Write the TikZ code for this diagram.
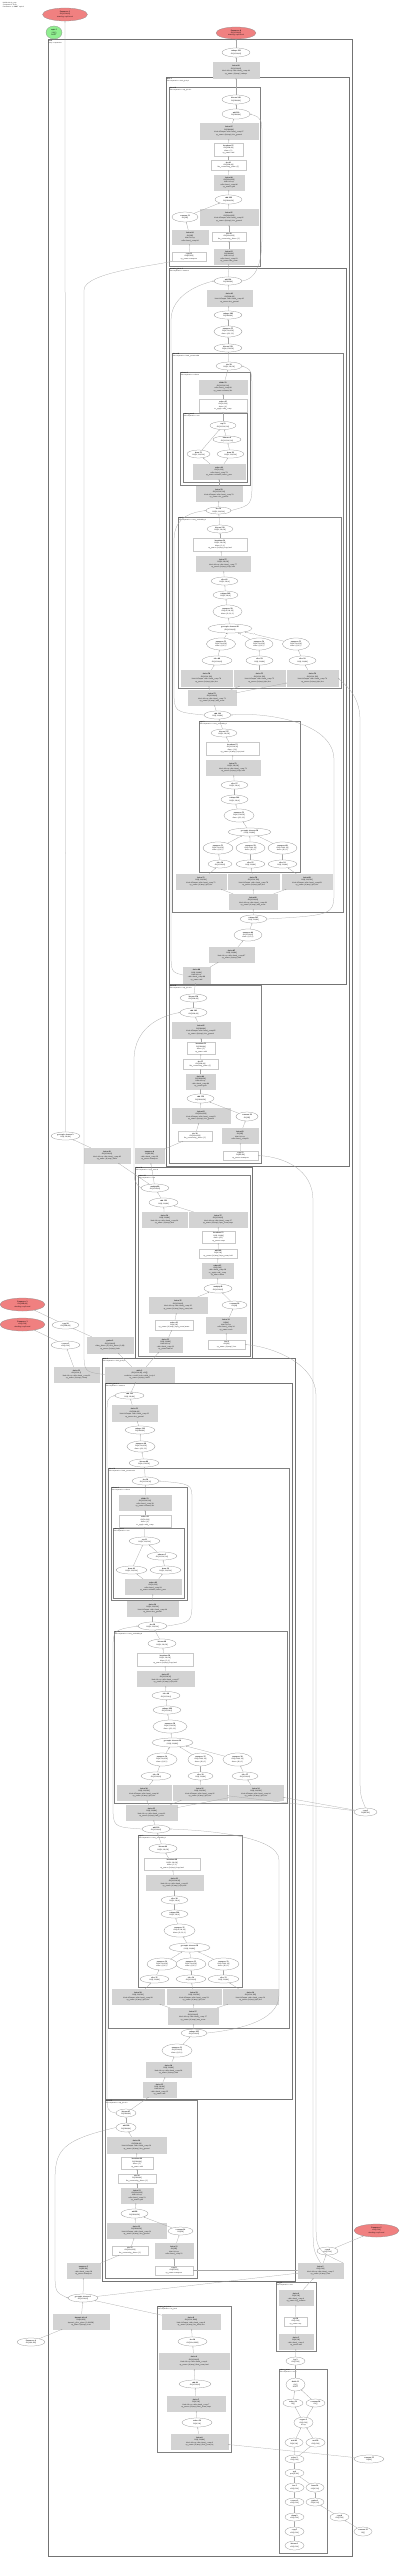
\documentclass[tikz,border=0pt]{standalone}
\usepackage{tikz}
\usetikzlibrary{arrows.meta,shapes.geometric}

\definecolor{parred}{RGB}{240,128,128}
\definecolor{rootgreen}{RGB}{144,238,144}
\definecolor{fusgray}{RGB}{211,211,211}
\definecolor{boxline}{RGB}{200,200,200}

\begin{document}
\begin{tikzpicture}[x=1pt,y=-1pt,
	every node/.style={font=\fontsize{1.8}{2.4}\selectfont\sffamily, align=center, inner sep=0.4pt},
	sz/.style 2 args={minimum width=#1, minimum height=#2},
	opnode/.style={ellipse, draw=black!45, fill=white, line width=0.25pt},
	boxnode/.style={rectangle, draw=boxline, fill=white, line width=0.15pt},
	fusnode/.style={rectangle, draw=fusgray, fill=fusgray, line width=0.25pt},
	parnode/.style={ellipse, draw=black!45, fill=parred, line width=0.25pt},
	rootnode/.style={ellipse, draw=black!45, fill=rootgreen, line width=0.25pt},
	grp/.style={draw=black!50, line width=0.6pt},
	grpthick/.style={draw=black!55, line width=1pt},
	grplabel/.style={anchor=north west, align=left, inner sep=0.6pt, font=\fontsize{1.6}{2}\selectfont\sffamily},
	link/.style={draw=black!35, line width=0.25pt, -{Stealth[length=1.3pt,width=1.1pt]}},
	edgelab/.style={font=\fontsize{1.4}{1.6}\selectfont\sffamily, inner sep=0.2pt, fill=white}]

	\useasboundingbox (0,0) rectangle (400,2558);

	% clusters
	\draw[grpthick] (48,40) rectangle (352,2556);
	\node[grplabel] at (48,40) {\textbf{main}\\entry computation};
	\draw[grpthick] (166,78) rectangle (349,1166);
	\node[grplabel] at (166,78) {\textbf{while.3}\\Subcomputation: while\_body.3};
	\draw[grp] (169,87) rectangle (260,266);
	\node[grplabel] at (169,87) {\textbf{fusion.82}\\Subcomputation: mlp\_block.1};
	\draw[grpthick] (169,268) rectangle (346,984);
	\node[grplabel] at (169,268) {\textbf{attention\_block.2}\\Subcomputation: attention};
	\draw[grp] (172,353) rectangle (343,912);
	\node[grplabel] at (172,353) {\textbf{fusion.60}\\Subcomputation: fused\_attention.60};
	\draw[grp] (180,372) rectangle (250,485);
	\node[grplabel] at (180,372) {\textbf{softmax.2}\\Subcomputation: softmax};
	\draw[grp] (183,413) rectangle (247,482);
	\node[grplabel] at (183,413) {\textbf{reduce\_max.2}\\Subcomputation: max};
	\draw[grp] (178,517) rectangle (341,688);
	\node[grplabel] at (178,517) {\textbf{rope.2}\\Subcomputation: rotary\_embedding.2};
	\draw[grp] (199,721) rectangle (300,872);
	\node[grplabel] at (199,721) {\textbf{rope.3}\\Subcomputation: rotary\_embedding.3};
	\draw[grp] (169,985) rectangle (261,1163);
	\node[grplabel] at (169,985) {\textbf{fusion.41}\\Subcomputation: mlp\_block.0};
	\draw[grpthick] (135,1167) rectangle (252,1358);
	\node[grplabel] at (135,1167) {\textbf{fusion.30}\\Subcomputation: layer\_norm.0};
	\draw[grp] (138,1175) rectangle (250,1356);
	\node[grplabel] at (138,1175) {\textbf{reduce.12}\\Subcomputation: norm};
	\draw[grpthick] (102,1358) rectangle (295,2281);
	\node[grplabel] at (102,1358) {\textbf{while.2}\\Subcomputation: while\_body.2};
	\draw[grpthick] (105,1383) rectangle (292,2099);
	\node[grplabel] at (105,1383) {\textbf{attention\_block.1}\\Subcomputation: attention};
	\draw[grp] (108,1468) rectangle (289,2028);
	\node[grplabel] at (108,1468) {\textbf{fusion.22}\\Subcomputation: fused\_attention.22};
	\draw[grp] (111,1487) rectangle (187,1600);
	\node[grplabel] at (111,1487) {\textbf{softmax.1}\\Subcomputation: softmax};
	\draw[grp] (113,1528) rectangle (184,1598);
	\node[grplabel] at (113,1528) {\textbf{reduce\_max.1}\\Subcomputation: max};
	\draw[grp] (114,1631) rectangle (287,1803);
	\node[grplabel] at (114,1631) {\textbf{rope.0}\\Subcomputation: rotary\_embedding.0};
	\draw[grp] (138,1835) rectangle (242,1987);
	\node[grplabel] at (138,1835) {\textbf{rope.1}\\Subcomputation: rotary\_embedding.1};
	\draw[grp] (105,2100) rectangle (197,2278);
	\node[grplabel] at (105,2100) {\textbf{fusion.12}\\Subcomputation: mlp\_block.2};
	\draw[grp] (157,2306) rectangle (231,2452);
	\node[grplabel] at (157,2306) {\textbf{output\_projection}\\Subcomputation: lm\_head};
	\draw[grp] (276,2282) rectangle (316,2351);
	\node[grplabel] at (276,2282) {\textbf{loss\_fn}\\Subcomputation: xent};
	\draw[grp] (279,2369) rectangle (327,2553);
	\node[grplabel] at (279,2369) {\textbf{reduce\_mean}\\Subcomputation: mean};

	% header and entry nodes
	\node[grplabel] (hdr) at (2,1.5) {HloModule jit\_step\\Computation: main\\Parameters: 4, ROOT tuple.5};
	\node[parnode, sz={45}{13}] (par0) at (65,14.5) {\textbf{Parameter 1}\\f32[8,128,64]\\sharding=replicated};
	\node[rootnode, sz={16}{13}] (root) at (54,32.5) {\textbf{tuple.5}\\(f32[])\\ROOT};
	\node[parnode, sz={40}{12}] (par1) at (236,33) {\textbf{Parameter 0}\\f32[8,128,64]\\sharding=replicated};
	\node[opnode, sz={28}{9}] (a1) at (236,52.5) {\textbf{reshape.301}\\f32[8,128,64]};
	\node[fusnode, sz={46}{16}] (a2) at (236,70) {\textbf{fusion.88}\\f32[8,128,64]\\kind=kLoop calls=fused\_comp.88\\op\_name=jit(step)/reshape};

	% mlp block 1
	\node[opnode, sz={28}{9}] (b1) at (236,99.5) {\textbf{bitcast.140}\\f32[1024,64]};
	\node[opnode, sz={28}{10}] (b2) at (236,114) {\textbf{add.210}\\f32[1024,64]};
	\node[fusnode, sz={58}{16}] (b3) at (229,131) {\textbf{fusion.87}\\f32[1024,64]\\kind=kOutput calls=fused\_comp.87\\op\_name=jit(step)/dot\_general};
	\node[boxnode, sz={29}{13}] (b4) at (228.5,149.5) {\textbf{broadcast.55}\\f32[1024,64]\\dims=\{1\}\\op\_name=add};
	\node[boxnode, sz={35}{10}] (b5) at (228.5,165) {\textbf{dot.41}\\f32[1024,64]\\lhs\_contracting\_dims=\{1\}};
	\node[fusnode, sz={30}{15}] (b6) at (229,182.5) {\textbf{fusion.86}\\f32[1024,256]\\kind=kLoop\\calls=fused\_comp.86\\op\_name=gelu};
	\node[opnode, sz={27}{9}] (b7) at (228.5,199.5) {\textbf{add.209}\\f32[1024,256]};
	\node[opnode, sz={26}{10}] (b8) at (185,217) {\textbf{constant.31}\\f32[256]};
	\node[fusnode, sz={58}{16}] (b9) at (229,217) {\textbf{fusion.85}\\f32[1024,256]\\kind=kOutput calls=fused\_comp.85\\op\_name=jit(step)/dot\_general};
	\node[fusnode, sz={36}{14}] (b10) at (190,237) {\textbf{fusion.84}\\f32[256]\\kind=kLoop\\calls=fused\_comp.84};
	\node[boxnode, sz={34}{9}] (b11) at (229,236.5) {\textbf{dot.40}\\f32[1024,256]\\lhs\_contracting\_dims=\{1\}};
	\node[fusnode, sz={30}{15}] (b12) at (229,256.5) {\textbf{fusion.83}\\f32[1024,64]\\kind=kLoop\\calls=fused\_comp.83\\op\_name=rms\_norm};
	\node[boxnode, sz={34}{9}] (b13) at (189,256.5) {\textbf{copy.12}\\f32[64,256]\\op\_name=transpose};

	% attention block 2
	\node[opnode, sz={28}{8}] (c1) at (228,281) {\textbf{add.198}\\f32[1024,64]};
	\node[fusnode, sz={45}{16}] (c2) at (229.5,298) {\textbf{fusion.81}\\f32[1024,64]\\kind=kOutput calls=fused\_comp.81\\op\_name=dot\_general};
	\node[opnode, sz={28}{8}] (c3) at (228,315) {\textbf{reshape.290}\\f32[1024,64]};
	\node[opnode, sz={28}{11}] (c4) at (228,331.5) {\textbf{transpose.77}\\f32[8,128,4,16]\\dims=\{0,2,1,3\}};
	\node[opnode, sz={28}{8}] (c5) at (228,348) {\textbf{bitcast.139}\\f32[8,4,128,16]};
	\node[opnode, sz={26}{8}] (d1) at (229,366) {\textbf{dot.39}\\f32[32,128,16]};
	\node[fusnode, sz={48}{14}] (e1) at (223,387) {\textbf{divide.22}\\f32[32,128,128]\\calls=fused\_comp.80\\op\_name=softmax/div};
	\node[boxnode, sz={48}{13}] (e2) at (223,405.5) {\textbf{reduce.45}\\f32[32,128]\\dims=\{2\}\\to\_apply=add\_comp};
	\node[opnode, sz={26}{8}] (f1) at (223,425.5) {\textbf{exp.12}\\f32[32,128,128]};
	\node[opnode, sz={28}{7}] (f2) at (227,439.5) {\textbf{subtract.8}\\f32[32,128,128]};
	\node[opnode, sz={23}{8}] (f3) at (198.5,454) {\textbf{bcast.71}\\f32[32,128,128]};
	\node[opnode, sz={27}{8}] (f4) at (230.5,454) {\textbf{bcast.70}\\f32[32,128,128]};
	\node[fusnode, sz={52}{15}] (f5) at (219,471.5) {\textbf{reduce.44}\\f32[32,128]\\calls=fused\_comp.79\\op\_name=softmax/reduce\_max};
	\node[fusnode, sz={46}{15}] (d2) at (219,493.5) {\textbf{fusion.78}\\f32[32,128,128]\\kind=kOutput calls=fused\_comp.78\\op\_name=dot\_general};
	\node[opnode, sz={25}{7}] (d3) at (218.5,510.5) {\textbf{dot.38}\\f32[32,128,128]};
	\node[opnode, sz={26}{8}] (g1) at (220,529) {\textbf{bitcast.138}\\f32[32,128,16]};
	\node[boxnode, sz={54}{13}] (g2) at (220,544.5) {\textbf{broadcast.54}\\f32[32,128,16]\\dims=\{1,2\}\\op\_name=jit(step)/rope/mul};
	\node[fusnode, sz={54}{15}] (g3) at (223,563.5) {\textbf{fusion.77}\\f32[32,128,16]\\kind=kLoop calls=fused\_comp.77\\op\_name=jit(step)/rope/add};
	\node[opnode, sz={27}{8}] (g4) at (224.5,581) {\textbf{slice.61}\\f32[32,128,8]};
	\node[opnode, sz={25}{8}] (g5) at (225.5,595) {\textbf{reshape.289}\\f32[32,128,8]};
	\node[opnode, sz={29}{13}] (g6) at (227.5,611.5) {\textbf{transpose.76}\\f32[8,4,128,16]\\dims=\{0,1,2,3\}};
	\node[opnode, sz={44}{9}] (g7) at (230,628.5) {\textbf{get-tuple-element.40}\\(f32[8,128,64])};
	\node[opnode, sz={29}{12}] (g8a) at (221,644) {\textbf{transpose.75}\\f32[8,128,4,16]\\dims=\{0,2,1\}};
	\node[opnode, sz={28}{12}] (g8b) at (259,644) {\textbf{transpose.74}\\f32[8,128,4,16]\\dims=\{0,2,1\}};
	\node[opnode, sz={27}{12}] (g8c) at (296,644) {\textbf{transpose.73}\\f32[8,128,4,16]\\dims=\{0,2,1\}};
	\node[opnode, sz={30}{9}] (g9a) at (217,660.5) {\textbf{slice.60}\\f32[8,128,64]};
	\node[opnode, sz={27}{9}] (g9b) at (259.5,660.5) {\textbf{slice.59}\\f32[8,128,64]};
	\node[opnode, sz={27}{9}] (g9c) at (302.5,660.5) {\textbf{slice.58}\\f32[8,128,64]};
	\node[fusnode, sz={51}{16}] (g10a) at (206.5,678) {\textbf{fusion.76}\\f32[8,128,192]\\kind=kOutput calls=fused\_comp.76\\op\_name=jit(step)/qkv/dot};
	\node[fusnode, sz={51}{16}] (g10b) at (259.5,678) {\textbf{fusion.75}\\f32[8,128,192]\\kind=kOutput calls=fused\_comp.75\\op\_name=jit(step)/qkv/dot};
	\node[fusnode, sz={51}{16}] (g10c) at (312.5,678) {\textbf{fusion.74}\\f32[8,128,192]\\kind=kOutput calls=fused\_comp.74\\op\_name=jit(step)/qkv/dot};
	\node[fusnode, sz={48}{15}] (d4) at (212,697.5) {\textbf{fusion.73}\\f32[8,128,64]\\kind=kLoop calls=fused\_comp.73\\op\_name=jit(step)/rms\_norm};
	\node[opnode, sz={27}{8}] (d5) at (217.5,715) {\textbf{add.188}\\f32[8,128,64]};
	\node[opnode, sz={26}{8}] (h1) at (224,733) {\textbf{bitcast.137}\\f32[32,128,16]};
	\node[boxnode, sz={53}{13}] (h2) at (232.5,748.5) {\textbf{broadcast.53}\\f32[32,128,16]\\dims=\{1,2\}\\op\_name=jit(step)/rope/mul};
	\node[fusnode, sz={54}{15}] (h3) at (233,767.5) {\textbf{fusion.72}\\f32[32,128,16]\\kind=kLoop calls=fused\_comp.72\\op\_name=jit(step)/rope/add};
	\node[opnode, sz={27}{8}] (h4) at (234.5,785) {\textbf{slice.57}\\f32[32,128,8]};
	\node[opnode, sz={27}{9}] (h5) at (234.5,799.5) {\textbf{reshape.288}\\f32[32,128,8]};
	\node[opnode, sz={30}{13}] (h6) at (239,815.5) {\textbf{transpose.72}\\f32[8,4,128,16]\\dims=\{0,1,2,3\}};
	\node[opnode, sz={43}{8}] (h7) at (249.5,832) {\textbf{get-tuple-element.39}\\(f32[8,128,64])};
	\node[opnode, sz={30}{12}] (h8a) at (218,848) {\textbf{transpose.71}\\f32[8,128,4,16]\\dims=\{0,2,1\}};
	\node[opnode, sz={29}{12}] (h8b) at (250.5,848) {\textbf{transpose.70}\\f32[8,128,4,16]\\dims=\{0,2,1\}};
	\node[opnode, sz={29}{12}] (h8c) at (282.5,848) {\textbf{transpose.69}\\f32[8,128,4,16]\\dims=\{0,2,1\}};
	\node[opnode, sz={24}{8}] (h9a) at (220,864) {\textbf{slice.56}\\f32[8,128,64]};
	\node[opnode, sz={29}{8}] (h9b) at (250.5,864) {\textbf{slice.55}\\f32[8,128,64]};
	\node[opnode, sz={29}{8}] (h9c) at (282.5,864) {\textbf{slice.54}\\f32[8,128,64]};
	\node[fusnode, sz={50}{15}] (d6a) at (201,881.5) {\textbf{fusion.71}\\f32[8,128,192]\\kind=kOutput calls=fused\_comp.71\\op\_name=jit(step)/qkv/dot};
	\node[fusnode, sz={51}{15}] (d6b) at (253.5,881.5) {\textbf{fusion.70}\\f32[8,128,192]\\kind=kOutput calls=fused\_comp.70\\op\_name=jit(step)/qkv/dot};
	\node[fusnode, sz={50}{15}] (d6c) at (307,881.5) {\textbf{fusion.69}\\f32[8,128,192]\\kind=kOutput calls=fused\_comp.69\\op\_name=jit(step)/qkv/dot};
	\node[fusnode, sz={48}{15}] (d7) at (253,901.5) {\textbf{fusion.68}\\f32[8,128,64]\\kind=kLoop calls=fused\_comp.68\\op\_name=jit(step)/rms\_norm};
	\node[opnode, sz={27}{8}] (c6) at (253.5,919) {\textbf{reshape.287}\\f32[8,128,64]};
	\node[opnode, sz={28}{12}] (c7) at (248,935) {\textbf{transpose.68}\\f32[8,128,64]\\dims=\{0,1,2\}};
	\node[fusnode, sz={45}{15}] (c8) at (231.5,954.5) {\textbf{fusion.67}\\f32[8,128,64]\\kind=kLoop calls=fused\_comp.67\\op\_name=jit(step)/add};
	\node[fusnode, sz={27}{16}] (c9) at (196.5,975) {\textbf{fusion.66}\\f32[8,128,64]\\kind=kLoop\\calls=fused\_comp.66\\op\_name=add};

	% mlp block 0
	\node[opnode, sz={27}{8}] (i1) at (193.5,998) {\textbf{bitcast.136}\\f32[1024,64]};
	\node[opnode, sz={27}{9}] (i2) at (193.5,1012.5) {\textbf{add.180}\\f32[1024,64]};
	\node[fusnode, sz={58}{16}] (i3) at (201,1030) {\textbf{fusion.65}\\f32[1024,64]\\kind=kOutput calls=fused\_comp.65\\op\_name=jit(step)/dot\_general};
	\node[boxnode, sz={28}{12}] (i4) at (201,1048) {\textbf{broadcast.52}\\f32[1024,64]\\dims=\{1\}\\op\_name=add};
	\node[boxnode, sz={35}{10}] (i5) at (200.5,1064) {\textbf{dot.37}\\f32[1024,64]\\lhs\_contracting\_dims=\{1\}};
	\node[fusnode, sz={29}{15}] (i6) at (200.5,1081.5) {\textbf{fusion.64}\\f32[1024,256]\\kind=kLoop\\calls=fused\_comp.64\\op\_name=gelu};
	\node[opnode, sz={27}{9}] (i7) at (200.5,1098.5) {\textbf{add.179}\\f32[1024,256]};
	\node[fusnode, sz={58}{15}] (i8) at (201,1115.5) {\textbf{fusion.63}\\f32[1024,256]\\kind=kOutput calls=fused\_comp.63\\op\_name=jit(step)/dot\_general};
	\node[opnode, sz={22}{9}] (i9) at (247,1116.5) {\textbf{constant.30}\\f32[256]};
	\node[boxnode, sz={34}{10}] (i10) at (195,1136) {\textbf{dot.36}\\f32[1024,256]\\lhs\_contracting\_dims=\{1\}};
	\node[fusnode, sz={36}{15}] (i11) at (240,1135.5) {\textbf{fusion.62}\\f32[256]\\kind=kLoop\\calls=fused\_comp.62};
	\node[boxnode, sz={35}{9}] (i12) at (240.5,1155.5) {\textbf{copy.11}\\f32[64,256]\\op\_name=transpose};

	% left side of first loop
	\node[opnode, sz={29}{8}] (el1136) at (65.5,1136) {\textbf{get-tuple-element.2}\\f32[8,128,64]};
	\node[fusnode, sz={46}{15}] (gl1155) at (107,1155.5) {\textbf{fusion.40}\\f32[8,128,64]\\kind=kLoop calls=fused\_comp.40\\op\_name=jit(step)/while};
	\node[fusnode, sz={29}{15}] (gm1155) at (149.5,1155.5) {\textbf{transpose.6}\\f32[64,256]\\calls=fused\_comp.39\\op\_name=transpose};

	% layer norm 0
	\node[opnode, sz={28}{8}] (k1) at (155,1188) {\textbf{multiply.90}\\f32[8,128,64]};
	\node[opnode, sz={29}{9}] (k2) at (163.5,1202.5) {\textbf{add.170}\\f32[8,128,64]};
	\node[fusnode, sz={45}{15}] (k3) at (164.5,1219.5) {\textbf{fusion.38}\\f32[8,128,64]\\kind=kLoop calls=fused\_comp.38\\op\_name=jit(step)/mul};
	\node[fusnode, sz={58}{15}] (k4) at (218,1219.5) {\textbf{fusion.37}\\f32[8,128,64]\\kind=kLoop calls=fused\_comp.37\\op\_name=jit(step)/layer\_norm/rsqrt};
	\node[boxnode, sz={33}{12}] (k5) at (218.5,1237) {\textbf{broadcast.51}\\f32[8,128,64]\\dims=\{0,1\}\\op\_name=rsqrt};
	\node[boxnode, sz={38}{9}] (k6) at (218,1253.5) {\textbf{add.169}\\f32[8,128]\\op\_name=jit(step)/layer\_norm/add};
	\node[fusnode, sz={31}{15}] (k7) at (217.5,1270.5) {\textbf{reduce.43}\\f32[8,128]\\calls=fused\_comp.36\\to\_apply=add\_comp\\op\_name=mean};
	\node[opnode, sz={28}{9}] (k8) at (218,1288.5) {\textbf{multiply.89}\\f32[8,128,64]};
	\node[fusnode, sz={58}{16}] (k9) at (178,1305) {\textbf{fusion.35}\\f32[8,128,64]\\kind=kLoop calls=fused\_comp.35\\op\_name=jit(step)/layer\_norm/sub};
	\node[opnode, sz={25}{8}] (k10) at (234.5,1305) {\textbf{constant.29}\\f32[64]};
	\node[boxnode, sz={38}{10}] (k11) at (174,1325) {\textbf{reduce.42}\\f32[8,128]\\op\_name=jit(step)/layer\_norm/mean};
	\node[fusnode, sz={40}{16}] (k12) at (226,1325) {\textbf{fusion.34}\\f32[64]\\kind=kLoop\\calls=fused\_comp.34\\op\_name=scale};
	\node[fusnode, sz={33}{15}] (k13) at (165.5,1344.5) {\textbf{fusion.33}\\f32[8,128,64]\\kind=kLoop\\calls=fused\_comp.33\\op\_name=embed};
	\node[boxnode, sz={37}{9}] (k14) at (226.5,1344.5) {\textbf{iota.4}\\s32[64]\\op\_name=jit(step)/iota};

	% parameters and left side of second loop
	\node[parnode, sz={45}{13}] (parA) at (22.5,1304.5) {\textbf{Parameter 2}\\f32[1000,64]\\sharding=replicated};
	\node[parnode, sz={45}{13}] (parB) at (22.5,1324.5) {\textbf{Parameter 3}\\s32[8,128]\\sharding=replicated};
	\node[opnode, sz={27}{8}] (el1325) at (65.5,1325) {\textbf{copy.10}\\f32[1000,64]};
	\node[opnode, sz={29}{8}] (el1345) at (65.5,1345) {\textbf{convert.3}\\s32[8,128]};
	\node[fusnode, sz={46}{16}] (gl1345) at (110,1345) {\textbf{gather.2}\\f32[8,128,64]\\offset\_dims=\{2\} slice\_sizes=\{1,64\}\\op\_name=jit(step)/take};
	\node[fusnode, sz={45}{15}] (gl1375) at (76.5,1374.5) {\textbf{fusion.32}\\s32[8,128,1]\\kind=kLoop calls=fused\_comp.32\\op\_name=jit(step)/clamp};
	\node[fusnode, sz={69}{15}] (l0) at (139.5,1374.5) {\textbf{while.2}\\(f32[8,128,64], s32[])\\condition=cond.2 body=while\_body.2\\op\_name=jit(step)/while};

	% attention block 1
	\node[opnode, sz={29}{7}] (m1) at (129.5,1395.5) {\textbf{add.120}\\f32[8,128,64]};
	\node[fusnode, sz={45}{16}] (m2) at (134.5,1413) {\textbf{fusion.31}\\f32[1024,64]\\kind=kOutput calls=fused\_comp.31\\op\_name=dot\_general};
	\node[opnode, sz={30}{8}] (m3) at (140,1430) {\textbf{reshape.210}\\f32[1024,64]};
	\node[opnode, sz={28}{11}] (m4) at (141,1446.5) {\textbf{transpose.40}\\f32[8,128,4,16]\\dims=\{0,2,1,3\}};
	\node[opnode, sz={30}{8}] (m5) at (144,1463) {\textbf{bitcast.90}\\f32[8,4,128,16]};
	\node[opnode, sz={27}{8}] (o1) at (145.5,1481) {\textbf{dot.30}\\f32[32,128,16]};
	\node[fusnode, sz={52}{15}] (p1) at (145,1502.5) {\textbf{divide.12}\\f32[32,128,128]\\calls=fused\_comp.30\\op\_name=softmax/div};
	\node[boxnode, sz={52}{12}] (p2) at (145,1521) {\textbf{reduce.41}\\f32[32,128]\\dims=\{2\}\\to\_apply=add\_comp};
	\node[opnode, sz={31}{8}] (q1) at (144.5,1541) {\textbf{exp.11}\\f32[32,128,128]};
	\node[opnode, sz={30}{8}] (q2) at (162,1556) {\textbf{subtract.7}\\f32[32,128,128]};
	\node[opnode, sz={31}{8}] (q3) at (131.5,1570) {\textbf{bcast.40}\\f32[32,128,128]};
	\node[opnode, sz={31}{8}] (q4) at (165.5,1570) {\textbf{bcast.39}\\f32[32,128,128]};
	\node[fusnode, sz={56}{15}] (q5) at (153,1586.5) {\textbf{reduce.40}\\f32[32,128]\\calls=fused\_comp.29\\op\_name=softmax/reduce\_max};
	\node[fusnode, sz={51}{15}] (o2) at (152.5,1608.5) {\textbf{fusion.28}\\f32[32,128,128]\\kind=kOutput calls=fused\_comp.28\\op\_name=dot\_general};
	\node[opnode, sz={29}{8}] (o3) at (152.5,1626) {\textbf{dot.29}\\f32[32,128,128]};
	\node[opnode, sz={28}{9}] (r1) at (162,1643.5) {\textbf{bitcast.89}\\f32[32,128,16]};
	\node[boxnode, sz={56}{13}] (r2) at (165,1659.5) {\textbf{broadcast.50}\\f32[32,128,16]\\dims=\{1,2\}\\op\_name=jit(step)/rope/mul};
	\node[fusnode, sz={57}{15}] (r3) at (165.5,1678.5) {\textbf{fusion.27}\\f32[32,128,16]\\kind=kLoop calls=fused\_comp.27\\op\_name=jit(step)/rope/add};
	\node[opnode, sz={28}{8}] (r4) at (166,1695.5) {\textbf{slice.40}\\f32[32,128,8]};
	\node[opnode, sz={28}{8}] (r5) at (167,1710) {\textbf{reshape.209}\\f32[32,128,8]};
	\node[opnode, sz={34}{13}] (r6) at (170,1726.5) {\textbf{transpose.39}\\f32[8,4,128,16]\\dims=\{0,1,2,3\}};
	\node[opnode, sz={41}{9}] (r7) at (172.5,1742.5) {\textbf{get-tuple-element.20}\\(f32[8,128,64])};
	\node[opnode, sz={30}{13}] (r8a) at (162,1759.5) {\textbf{transpose.38}\\f32[8,128,4,16]\\dims=\{0,2,1\}};
	\node[opnode, sz={25}{13}] (r8b) at (200.5,1759.5) {\textbf{transpose.37}\\f32[8,128,4,16]\\dims=\{0,2,1\}};
	\node[opnode, sz={29}{13}] (r8c) at (237.5,1759.5) {\textbf{transpose.36}\\f32[8,128,4,16]\\dims=\{0,2,1\}};
	\node[opnode, sz={30}{8}] (r9a) at (156,1776) {\textbf{slice.39}\\f32[8,128,64]};
	\node[opnode, sz={25}{8}] (r9b) at (200.5,1776) {\textbf{slice.38}\\f32[8,128,64]};
	\node[opnode, sz={26}{8}] (r9c) at (245,1776) {\textbf{slice.37}\\f32[8,128,64]};
	\node[fusnode, sz={54}{15}] (r10a) at (144,1792.5) {\textbf{fusion.26}\\f32[8,128,192]\\kind=kOutput calls=fused\_comp.26\\op\_name=jit(step)/qkv/dot};
	\node[fusnode, sz={54}{15}] (r10b) at (200,1792.5) {\textbf{fusion.25}\\f32[8,128,192]\\kind=kOutput calls=fused\_comp.25\\op\_name=jit(step)/qkv/dot};
	\node[fusnode, sz={54}{15}] (r10c) at (256,1792.5) {\textbf{fusion.24}\\f32[8,128,192]\\kind=kOutput calls=fused\_comp.24\\op\_name=jit(step)/qkv/dot};
	\node[fusnode, sz={51}{15}] (o4) at (151.5,1812.5) {\textbf{fusion.23}\\f32[8,128,64]\\kind=kLoop calls=fused\_comp.23\\op\_name=jit(step)/rms\_norm};
	\node[opnode, sz={28}{8}] (o5) at (156,1829) {\textbf{add.110}\\f32[8,128,64]};
	\node[opnode, sz={28}{9}] (s1) at (163,1848.5) {\textbf{bitcast.88}\\f32[32,128,16]};
	\node[boxnode, sz={56}{12}] (s2) at (172,1864) {\textbf{broadcast.49}\\f32[32,128,16]\\dims=\{1,2\}\\op\_name=jit(step)/rope/mul};
	\node[fusnode, sz={57}{15}] (s3) at (174.5,1882.5) {\textbf{fusion.21}\\f32[32,128,16]\\kind=kLoop calls=fused\_comp.21\\op\_name=jit(step)/rope/add};
	\node[opnode, sz={27}{8}] (s4) at (174.5,1900) {\textbf{slice.36}\\f32[32,128,8]};
	\node[opnode, sz={27}{8}] (s5) at (174.5,1914) {\textbf{reshape.208}\\f32[32,128,8]};
	\node[opnode, sz={31}{13}] (s6) at (179.5,1930.5) {\textbf{transpose.35}\\f32[8,4,128,16]\\dims=\{0,1,2,3\}};
	\node[opnode, sz={41}{9}] (s7) at (189.5,1947.5) {\textbf{get-tuple-element.19}\\(f32[8,128,64])};
	\node[opnode, sz={30}{12}] (s8a) at (162,1964) {\textbf{transpose.34}\\f32[8,128,4,16]\\dims=\{0,2,1\}};
	\node[opnode, sz={30}{12}] (s8b) at (191,1964) {\textbf{transpose.33}\\f32[8,128,4,16]\\dims=\{0,2,1\}};
	\node[opnode, sz={31}{12}] (s8c) at (223.5,1964) {\textbf{transpose.32}\\f32[8,128,4,16]\\dims=\{0,2,1\}};
	\node[opnode, sz={29}{8}] (s9a) at (154.5,1979) {\textbf{slice.35}\\f32[8,128,64]};
	\node[opnode, sz={30}{8}] (s9b) at (191,1979) {\textbf{slice.34}\\f32[8,128,64]};
	\node[opnode, sz={31}{8}] (s9c) at (223.5,1979) {\textbf{slice.33}\\f32[8,128,64]};
	\node[fusnode, sz={52}{15}] (o6a) at (138,1996.5) {\textbf{fusion.20}\\f32[8,128,192]\\kind=kOutput calls=fused\_comp.20\\op\_name=jit(step)/qkv/dot};
	\node[fusnode, sz={54}{15}] (o6b) at (194,1996.5) {\textbf{fusion.19}\\f32[8,128,192]\\kind=kOutput calls=fused\_comp.19\\op\_name=jit(step)/qkv/dot};
	\node[fusnode, sz={55}{15}] (o6c) at (250.5,1996.5) {\textbf{fusion.18}\\f32[8,128,192]\\kind=kOutput calls=fused\_comp.18\\op\_name=jit(step)/qkv/dot};
	\node[fusnode, sz={50}{16}] (o7) at (193,2016) {\textbf{fusion.17}\\f32[8,128,64]\\kind=kLoop calls=fused\_comp.17\\op\_name=jit(step)/rms\_norm};
	\node[opnode, sz={26}{8}] (m6) at (194,2033) {\textbf{reshape.207}\\f32[8,128,64]};
	\node[opnode, sz={30}{13}] (m7) at (177,2050.5) {\textbf{transpose.31}\\f32[8,128,64]\\dims=\{0,1,2\}};
	\node[fusnode, sz={45}{15}] (m8) at (168.5,2069.5) {\textbf{fusion.16}\\f32[8,128,64]\\kind=kLoop calls=fused\_comp.16\\op\_name=jit(step)/add};
	\node[fusnode, sz={33}{15}] (m9) at (159.5,2089.5) {\textbf{fusion.15}\\f32[8,128,64]\\kind=kLoop\\calls=fused\_comp.15\\op\_name=add};

	% mlp block 2
	\node[opnode, sz={20}{8}] (n1) at (126,2113) {\textbf{bitcast.87}\\f32[1024,64]};
	\node[opnode, sz={20}{9}] (n2) at (126,2127.5) {\textbf{add.100}\\f32[1024,64]};
	\node[fusnode, sz={59}{16}] (n3) at (136.5,2145) {\textbf{fusion.14}\\f32[1024,64]\\kind=kOutput calls=fused\_comp.14\\op\_name=jit(step)/dot\_general};
	\node[boxnode, sz={32}{12}] (n4) at (137,2163) {\textbf{broadcast.48}\\f32[1024,64]\\dims=\{1\}\\op\_name=add};
	\node[boxnode, sz={38}{9}] (n5) at (137,2178.5) {\textbf{dot.28}\\f32[1024,64]\\lhs\_contracting\_dims=\{1\}};
	\node[fusnode, sz={32}{15}] (n6) at (137,2195.5) {\textbf{fusion.13}\\f32[1024,256]\\kind=kLoop\\calls=fused\_comp.13\\op\_name=gelu};
	\node[opnode, sz={27}{9}] (n7) at (134.5,2213.5) {\textbf{add.99}\\f32[1024,256]};
	\node[fusnode, sz={59}{15}] (n8) at (136.5,2230.5) {\textbf{fusion.12}\\f32[1024,256]\\kind=kOutput calls=fused\_comp.12\\op\_name=jit(step)/dot\_general};
	\node[opnode, sz={25}{8}] (n9) at (180.5,2231) {\textbf{constant.28}\\f32[256]};
	\node[boxnode, sz={36}{9}] (n10) at (130,2250.5) {\textbf{dot.27}\\f32[1024,256]\\lhs\_contracting\_dims=\{1\}};
	\node[fusnode, sz={38}{15}] (n11) at (174,2250.5) {\textbf{fusion.11}\\f32[256]\\kind=kLoop\\calls=fused\_comp.11};
	\node[boxnode, sz={38}{9}] (n12) at (174,2270.5) {\textbf{copy.9}\\f32[64,256]\\op\_name=transpose};

	% bottom left
	\node[fusnode, sz={33}{15}] (gl2270) at (83.5,2270.5) {\textbf{transpose.5}\\f32[64,256]\\calls=fused\_comp.10\\op\_name=transpose};
	\node[opnode, sz={30}{8}] (el2297) at (83,2298) {\textbf{get-tuple-element.1}\\f32[8,128,64]};
	\node[fusnode, sz={56}{15}] (gl2321) at (81,2321.5) {\textbf{dynamic-slice.4}\\f32[64,256]\\dynamic\_slice\_sizes=\{1,64,256\}\\op\_name=jit(step)/scan};
	\node[opnode, sz={28}{8}] (el2342) at (31,2342) {\textbf{Parameter 4}\\f32[4,64,256]};

	% output projection
	\node[fusnode, sz={58}{15}] (t1) at (191,2321.5) {\textbf{fusion.9}\\f32[8,128,1000]\\kind=kOutput calls=fused\_comp.9\\op\_name=jit(step)/lm\_head/dot};
	\node[opnode, sz={29}{9}] (t2) at (192.5,2341.5) {\textbf{dot.26}\\f32[1024,1000]};
	\node[fusnode, sz={70}{16}] (t3) at (194,2361) {\textbf{fusion.8}\\f32[8,128,64]\\kind=kLoop calls=fused\_comp.8\\op\_name=jit(step)/final\_norm/mul};
	\node[opnode, sz={32}{8}] (t4) at (195,2384) {\textbf{add.98}\\f32[8,128,64]};
	\node[fusnode, sz={58}{15}] (t5) at (196,2403.5) {\textbf{fusion.7}\\f32[8,128]\\kind=kLoop calls=fused\_comp.7\\op\_name=jit(step)/final\_norm/rsqrt};
	\node[opnode, sz={30}{9}] (t6) at (197,2422.5) {\textbf{reduce.39}\\f32[8,128]};
	\node[fusnode, sz={57}{15}] (t7) at (199.5,2441.5) {\textbf{fusion.6}\\f32[8,128,64]\\kind=kLoop calls=fused\_comp.6\\op\_name=jit(step)/final\_norm/sq};
	\node[opnode, sz={30}{8}] (er2459) at (369,2459) {\textbf{constant.27}\\f32[64]};

	% loss
	\node[parnode, sz={45}{13}] (par3) at (376.5,2230.5) {\textbf{Parameter 5}\\s32[8,128]\\sharding=replicated};
	\node[opnode, sz={21}{8}] (er2251) at (327.5,2251) {\textbf{copy.8}\\s32[8,128]};
	\node[fusnode, sz={45}{15}] (gr2271) at (320.5,2270.5) {\textbf{fusion.5}\\f32[8,128]\\kind=kLoop calls=fused\_comp.5\\op\_name=jit(step)/xent};
	\node[fusnode, sz={34}{15}] (u1) at (296,2297.5) {\textbf{fusion.4}\\f32[8,128]\\calls=fused\_comp.4\\op\_name=log\_softmax};
	\node[boxnode, sz={23}{9}] (u2) at (295.5,2321.5) {\textbf{exp.10}\\f32[8,128]\\op\_name=exp};
	\node[fusnode, sz={34}{15}] (u3) at (296,2341.5) {\textbf{fusion.3}\\f32[8,128]\\calls=fused\_comp.3\\op\_name=sub};
	\node[opnode, sz={19}{8}] (eu) at (295.5,2361) {\textbf{log.2}\\f32[8,128]};
	\node[opnode, sz={19}{13}] (v1) at (295.5,2384.5) {\textbf{divide.11}\\f32[]\\ROOT};
	\node[opnode, sz={20}{8}] (v2) at (293,2403) {\textbf{reduce.38}\\f32[]};
	\node[opnode, sz={19}{8}] (v3) at (315.5,2403) {\textbf{constant.26}\\f32[]};
	\node[opnode, sz={19}{11}] (v4) at (303.5,2422.5) {\textbf{negate.2}\\f32[8,128]\\kLoop};
	\node[opnode, sz={18}{9}] (v5) at (294,2442.5) {\textbf{mul.40}\\f32[8,128]};
	\node[opnode, sz={19}{9}] (v6) at (315.5,2442.5) {\textbf{mul.39}\\f32[8,128]};
	\node[opnode, sz={19}{8}] (v7) at (294.5,2459) {\textbf{select.3}\\f32[8,128]};
	\node[opnode, sz={19}{8}] (v8) at (294.5,2473) {\textbf{eq.4}\\pred[8,128]};
	\node[opnode, sz={19}{9}] (v9) at (294.5,2487.5) {\textbf{iota.3}\\s32[8,128]};
	\node[opnode, sz={18}{9}] (v10) at (315,2487.5) {\textbf{bcast.38}\\s32[8,128]};
	\node[opnode, sz={19}{8}] (v11) at (294.5,2502) {\textbf{convert.2}\\s32[8,128]};
	\node[opnode, sz={18}{8}] (v12) at (315,2502) {\textbf{gather.1}\\s32[8,128]};
	\node[opnode, sz={19}{8}] (v13) at (294.5,2517) {\textbf{clamp.2}\\s32[8,128]};
	\node[opnode, sz={19}{9}] (v14) at (294.5,2531.5) {\textbf{copy.7}\\s32[8,128]};
	\node[opnode, sz={19}{9}] (v15) at (294.5,2545.5) {\textbf{bitcast.1}\\s32[8,128]};
	\node[opnode, sz={19}{8}] (er2516) at (339.5,2517) {\textbf{copy.6}\\f32[8,128]};
	\node[opnode, sz={18}{9}] (er2531) at (363,2531.5) {\textbf{constant.25}\\f32[]};
	\node[opnode, sz={23}{8}] (er1812) at (365.5,1812) {\textbf{copy.5}\\f32[64,192]};

	% straight links
	\foreach \lo/\hi in {a1/par1,a2/a1,b1/a2,b2/b1,b3/b2,b4/b3,b5/b4,b6/b5,b7/b6,b8/b7,b9/b7,b10/b8,b11/b9,b12/b11,b13/b10,
		c1/b12,c2/c1,c3/c2,c4/c3,c5/c4,d1/c5,e1/d1,e2/e1,f1/e2,f2/f1,f3/f1,f4/f2,f5/f3,f5/f4,d2/f5,d3/d2,
		g1/d3,g2/g1,g3/g2,g4/g3,g5/g4,g6/g5,g7/g6,g9a/g8a,g9b/g8b,g9c/g8c,g10a/g9a,g10b/g9b,g10c/g9c,d4/g10a,d4/g10b,d4/g10c,d5/d4,
		h1/d5,h2/h1,h3/h2,h4/h3,h5/h4,h6/h5,h7/h6,h9a/h8a,h9b/h8b,h9c/h8c,d6a/h9a,d6b/h9b,d6c/h9c,d7/d6a,d7/d6b,d7/d6c,
		c6/d7,c7/c6,c8/c7,c9/c8,i1/c9,i2/i1,i3/i2,i4/i3,i5/i4,i6/i5,i7/i6,i8/i7,i9/i7,i10/i8,i11/i9,i12/i11,
		el1136/par0,gl1155/el1136,k1/gl1155,k1/gm1155,gm1155/i10,
		k2/k1,k3/k2,k4/k2,k5/k4,k6/k5,k7/k6,k8/k7,k9/k8,k10/k8,k11/k9,k12/k10,k13/k11,k14/k12,
		el1325/parA,gl1345/el1325,el1345/parB,gl1375/el1345,l0/gl1345,l0/k13,
		m1/l0,m2/m1,m3/m2,m4/m3,m5/m4,o1/m5,p1/o1,p2/p1,q1/p2,q2/q1,q3/q1,q4/q2,q5/q3,q5/q4,o2/q5,o3/o2,
		r1/o3,r2/r1,r3/r2,r4/r3,r5/r4,r6/r5,r7/r6,r9a/r8a,r9b/r8b,r9c/r8c,r10a/r9a,r10b/r9b,r10c/r9c,o4/r10a,o4/r10b,o4/r10c,o5/o4,
		s1/o5,s2/s1,s3/s2,s4/s3,s5/s4,s6/s5,s7/s6,s9a/s8a,s9b/s8b,s9c/s8c,o6a/s9a,o6b/s9b,o6c/s9c,o7/o6a,o7/o6b,o7/o6c,
		m6/o7,m7/m6,m8/m7,m9/m8,n1/m9,n2/n1,n3/n2,n4/n3,n5/n4,n6/n5,n7/n6,n8/n7,n9/n7,n10/n8,n11/n9,n12/n11,
		el2297/gl2270,gl2321/el2297,el2342/gl2321,t1/el2297,gl2270/n10,el2297/gr2271,n12/gr2271,u1/gr2271,gr2271/er2251,er2251/par3,
		t2/t1,t3/t2,t4/t3,t5/t4,t6/t5,t7/t6,er2459/t7,
		u2/u1,u3/u2,eu/u3,v1/eu,v2/v1,v3/v1,v4/v2,v4/v3,v5/v4,v6/v4,v7/v5,v7/v6,v8/v7,v9/v8,v10/v8,v11/v9,v12/v10,
		v13/v11,v14/v13,v15/v14,er2516/v12,er2531/er2516,er1812/r10c,er1812/r10b}
		\draw[link] (\lo) -- (\hi);

	% fan-in with operand indices
	\draw[link] (g8a) -- node[edgelab, pos=0.75] {0} (g7);
	\draw[link] (g8b) -- node[edgelab, pos=0.75] {1} (g7);
	\draw[link] (g8c) -- node[edgelab, pos=0.75] {2} (g7);
	\draw[link] (h8a) -- node[edgelab, pos=0.75] {0} (h7);
	\draw[link] (h8b) -- node[edgelab, pos=0.75] {1} (h7);
	\draw[link] (h8c) -- node[edgelab, pos=0.75] {2} (h7);
	\draw[link] (r8a) -- node[edgelab, pos=0.75] {0} (r7);
	\draw[link] (r8b) -- node[edgelab, pos=0.75] {1} (r7);
	\draw[link] (r8c) -- node[edgelab, pos=0.75] {2} (r7);
	\draw[link] (s8a) -- node[edgelab, pos=0.75] {0} (s7);
	\draw[link] (s8b) -- node[edgelab, pos=0.75] {1} (s7);
	\draw[link] (s8c) -- node[edgelab, pos=0.75] {2} (s7);

	% loop-carried links
	\draw[link] (c1.east) .. controls (262,278) and (262,250) .. (262,230) -- (262,140) .. controls (262,118) .. (b2.east);
	\draw[link] (c9.west) .. controls (171,972) .. (171,950) -- (171,320) .. controls (171,295) and (200,284) .. (c1.west);
	\draw[link] (d3.east) .. controls (252,505) .. (252,480) -- (252,395) .. controls (252,370) .. (d1.east);
	\draw[link] (d5.west) .. controls (174,712) .. (174,690) -- (174,540) .. controls (174,515) and (195,512) .. (d3.west);
	\draw[link] (c6.east) .. controls (334,915) .. (334,890) -- (334,760) .. controls (334,720) and (260,712) .. (d5.east);
	\draw[link] (k1.west) .. controls (134,1182) .. (134,1160) -- (134,1060) .. controls (134,1025) and (165,1015) .. (i2.west);
	\draw[link] (l0.west) .. controls (84,1372) .. (84,1350) -- (84,290) .. controls (84,272) and (160,265) .. (b13.south west);
	\draw[link] (gr2271.north) .. controls (313,2250) .. (313,2220) -- (313,1200) .. controls (313,1170) and (285,1157) .. (i12.east);
	\draw[link] (gr2271.north east) .. controls (316,2250) .. (316,2220) -- (316,1395) .. controls (316,1365) and (275,1347) .. (k14.east);
	\draw[link] (er1812.north) .. controls (360,1795) .. (360,1770) -- (360,720) .. controls (360,695) and (345,685) .. (g10c.east);
	\draw[link] (o3.east) .. controls (192,1622) .. (192,1600) -- (192,1500) .. controls (192,1484) .. (o1.east);
	\draw[link] (o5.west) .. controls (113,1827) .. (113,1805) -- (113,1650) .. controls (113,1630) .. (o3.west);
	\draw[link] (m6.east) .. controls (235,2030) and (279,2022) .. (279,1995) -- (279,1860) .. controls (279,1835) and (200,1830) .. (o5.east);
	\draw[link] (n1.west) .. controls (107,2111) .. (107,2090) -- (107,1420) .. controls (107,1398) .. (m1.west);
	\draw[link] (n2.west) .. controls (62,2140) and (55,2150) .. (55,2180) -- (55,2270) .. controls (55,2292) .. (el2297.west);
\end{tikzpicture}
\end{document}
